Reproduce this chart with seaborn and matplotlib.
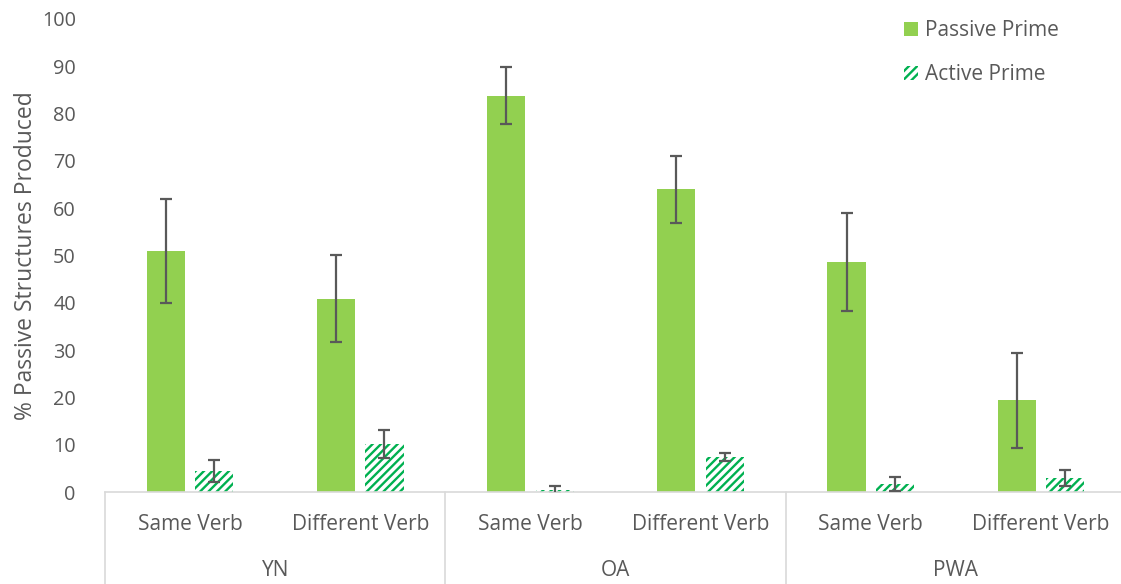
import matplotlib
matplotlib.use("Agg")
import matplotlib.pyplot as plt
import matplotlib.transforms as mtransforms
from matplotlib.patches import Patch
import seaborn as sns
import pandas as pd
import numpy as np

# Data
groups = ["YN", "YN", "OA", "OA", "PWA", "PWA"]
verbs = ["Same Verb", "Different Verb"] * 3
primes = ["Passive Prime", "Active Prime"]
passive_vals = [51.0, 40.9, 83.8, 64.0, 48.6, 19.4]
passive_err = [11.0, 9.1, 6.1, 7.1, 10.4, 10.0]
active_vals = [4.5, 10.1, 0.4, 7.4, 1.7, 3.0]
active_err = [2.3, 3.0, 0.8, 0.8, 1.4, 1.7]
y_ticks = list(range(0, 101, 10))

PASSIVE_COLOR = "#92D050"
ACTIVE_COLOR = "#00B050"
TEXT_COLOR = "#595959"
AXIS_COLOR = "#D9D9D9"

sns.set_theme(style="white")
plt.rcParams["font.family"] = ["Open Sans", "DejaVu Sans"]
plt.rcParams["hatch.linewidth"] = 1.7

keys = [f"{g}|{v}" for g, v in zip(groups, verbs)]
df = pd.DataFrame({
    "key": keys * 2,
    "prime": [primes[0]] * 6 + [primes[1]] * 6,
    "value": passive_vals + active_vals,
    "err": passive_err + active_err,
})

fig = plt.figure(figsize=(11.21, 5.84), dpi=100)
W, H = 1121, 584
ax = fig.add_axes([105 / W, (H - 492) / H, 1021 / W, (492 - 19) / H])

sns.barplot(data=df, x="key", y="value", hue="prime", order=keys,
            hue_order=primes, palette=[PASSIVE_COLOR, ACTIVE_COLOR],
            width=0.57, gap=0.21, errorbar=None, legend=False, ax=ax,
            linewidth=0, saturation=1)

# Active-prime bars: green diagonal stripes on white
containers = ax.containers
for bar in containers[1]:
    bar.set_facecolor("white")
    bar.set_edgecolor(ACTIVE_COLOR)
    bar.set_hatch("////")
    bar.set_linewidth(0)

# Error bars at each bar centre
for cont, vals, errs in zip(containers, [passive_vals, active_vals],
                            [passive_err, active_err]):
    xs = [b.get_x() + b.get_width() / 2 for b in cont]
    ax.errorbar(xs, vals, yerr=errs, fmt="none", ecolor=TEXT_COLOR,
                elinewidth=1.6, capsize=4, capthick=1.6, zorder=5)

ax.set_ylim(0, 100)
ax.set_xlim(-0.5, 5.5)
ax.set_yticks(y_ticks)
ax.tick_params(axis="y", length=0, pad=21, labelsize=14.3, labelcolor=TEXT_COLOR)
ax.set_xticks([])
ax.set_xlabel("")
ax.set_ylabel("% Passive Structures Produced", fontsize=16.5,
              color=TEXT_COLOR, labelpad=2.5)
for side in ["top", "right", "left"]:
    ax.spines[side].set_visible(False)
ax.spines["bottom"].set_color(AXIS_COLOR)
ax.spines["bottom"].set_linewidth(1.2)

# Two-level category axis
trans = mtransforms.blended_transform_factory(ax.transData, ax.transAxes)
px = 1.0 / (492 - 19)
for i, v in enumerate(verbs):
    ax.text(i, -(524 - 492) * px, v, transform=trans, ha="center", va="center",
            fontsize=15, color=TEXT_COLOR, clip_on=False)
for gi, g in enumerate(["YN", "OA", "PWA"]):
    ax.text(2 * gi + 0.5, -(571 - 492) * px, g, transform=trans, ha="center",
            va="center", fontsize=15, color=TEXT_COLOR, clip_on=False)
for xb in [-0.5, 1.5, 3.5, 5.5]:
    ax.plot([xb, xb], [0, -0.25], transform=trans, color=AXIS_COLOR, lw=1.2,
            clip_on=False)

# Legend
handles = [Patch(facecolor=PASSIVE_COLOR, edgecolor="none", label=primes[0]),
           Patch(facecolor="white", edgecolor=ACTIVE_COLOR, hatch="////",
                 linewidth=0, label=primes[1])]
fig.legend(handles=handles, loc="upper left", bbox_to_anchor=(896 / W, 1 - 12 / H),
           frameon=False, fontsize=15, labelcolor=TEXT_COLOR,
           handlelength=0.65, handleheight=0.65, handletextpad=0.35,
           labelspacing=1.1, borderaxespad=0)

fig.savefig("out.png", dpi=100)
